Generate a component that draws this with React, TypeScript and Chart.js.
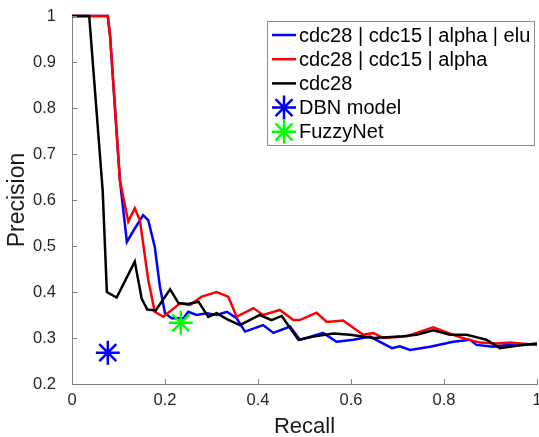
import React, { useEffect, useRef } from 'react';
import { Chart, registerables } from 'chart.js';

Chart.register(...registerables);

// ---- data ----
const blueRecall = [0, 0.077, 0.082, 0.103, 0.118, 0.135, 0.153, 0.164, 0.178, 0.189, 0.2, 0.214, 0.24, 0.25, 0.268, 0.29, 0.311, 0.333, 0.354, 0.372, 0.411, 0.433, 0.469, 0.49, 0.54, 0.569, 0.605, 0.641, 0.688, 0.705, 0.727, 0.77, 0.82, 0.856, 0.87, 0.906, 0.935, 1];
const bluePrecision = [1, 1, 0.955, 0.643, 0.509, 0.538, 0.567, 0.556, 0.498, 0.412, 0.354, 0.343, 0.343, 0.357, 0.35, 0.354, 0.35, 0.357, 0.343, 0.314, 0.328, 0.311, 0.325, 0.296, 0.311, 0.292, 0.296, 0.303, 0.278, 0.282, 0.274, 0.281, 0.292, 0.296, 0.285, 0.281, 0.285, 0.287];

const redRecall = [0, 0.077, 0.082, 0.103, 0.121, 0.135, 0.146, 0.164, 0.178, 0.196, 0.232, 0.254, 0.279, 0.311, 0.336, 0.354, 0.39, 0.411, 0.447, 0.476, 0.49, 0.526, 0.548, 0.583, 0.626, 0.648, 0.67, 0.72, 0.777, 0.806, 0.834, 0.877, 0.913, 0.942, 1];
const redPrecision = [1, 1, 0.955, 0.643, 0.553, 0.582, 0.556, 0.426, 0.357, 0.346, 0.375, 0.372, 0.39, 0.4, 0.39, 0.346, 0.365, 0.35, 0.361, 0.339, 0.339, 0.355, 0.335, 0.338, 0.307, 0.311, 0.3, 0.304, 0.323, 0.312, 0.302, 0.29, 0.288, 0.29, 0.285];

const blackRecall = [0, 0.037, 0.066, 0.075, 0.096, 0.135, 0.15, 0.162, 0.18, 0.211, 0.229, 0.25, 0.272, 0.293, 0.311, 0.333, 0.361, 0.404, 0.429, 0.451, 0.487, 0.519, 0.562, 0.598, 0.648, 0.705, 0.741, 0.777, 0.813, 0.849, 0.892, 0.92, 0.956, 1];
const blackPrecision = [1, 1, 0.62, 0.4, 0.388, 0.466, 0.385, 0.362, 0.36, 0.406, 0.376, 0.374, 0.379, 0.346, 0.354, 0.341, 0.328, 0.35, 0.339, 0.348, 0.296, 0.303, 0.31, 0.307, 0.3, 0.303, 0.307, 0.317, 0.307, 0.307, 0.296, 0.278, 0.283, 0.288];

const dbnRecall = [0.077];
const dbnPrecision = [0.268];
const fuzzyRecall = [0.234];
const fuzzyPrecision = [0.333];

const seriesLabels = ['cdc28 | cdc15 | alpha | elu', 'cdc28 | cdc15 | alpha', 'cdc28', 'DBN model', 'FuzzyNet'];
const seriesColors = ['#0000ff', '#ff0000', '#000000', '#0000ff', '#00ff00'];

const xTickValues = [0, 0.2, 0.4, 0.6, 0.8, 1];
const xTickLabels = ['0', '0.2', '0.4', '0.6', '0.8', '1'];
const yTickValues = [0.2, 0.3, 0.4, 0.5, 0.6, 0.7, 0.8, 0.9, 1];
const yTickLabels = ['0.2', '0.3', '0.4', '0.5', '0.6', '0.7', '0.8', '0.9', '1'];

const FONT = "'Liberation Sans', Arial, Helvetica, sans-serif";
const AXIS_GRAY = '#808080';
const TICK_COLOR = '#262626';
const TICK_FONT_SIZE = 16.5;

function pts(xs: number[], ys: number[]) {
  return xs.map((x, i) => ({ x, y: ys[i] }));
}

function drawStar(ctx: CanvasRenderingContext2D, cx: number, cy: number, r: number) {
  ctx.beginPath();
  for (let k = 0; k < 4; k++) {
    const a = (k * Math.PI) / 4;
    const dx = Math.cos(a) * r;
    const dy = Math.sin(a) * r;
    ctx.moveTo(cx - dx, cy - dy);
    ctx.lineTo(cx + dx, cy + dy);
  }
  ctx.stroke();
}

// inward tick marks (MATLAB style) + x tick labels
const axisDecor = {
  id: 'axisDecor',
  afterDatasetsDraw(chart: any) {
    const { ctx, chartArea, scales } = chart;
    ctx.save();
    ctx.strokeStyle = AXIS_GRAY;
    ctx.lineWidth = 1;
    ctx.beginPath();
    yTickValues.forEach((v) => {
      const y = Math.round(scales.y.getPixelForValue(v)) + 0.5;
      ctx.moveTo(chartArea.left, y);
      ctx.lineTo(chartArea.left + 5, y);
    });
    xTickValues.forEach((v) => {
      const x = Math.round(scales.x.getPixelForValue(v)) + 0.5;
      ctx.moveTo(x, chartArea.bottom);
      ctx.lineTo(x, chartArea.bottom - 5);
    });
    ctx.stroke();
    ctx.fillStyle = TICK_COLOR;
    ctx.font = `${TICK_FONT_SIZE}px ${FONT}`;
    ctx.textAlign = 'center';
    ctx.textBaseline = 'alphabetic';
    xTickValues.forEach((v, i) => {
      ctx.fillText(xTickLabels[i], scales.x.getPixelForValue(v), chartArea.bottom + 21);
    });
    ctx.restore();
  },
};

const boxLegend = {
  id: 'boxLegend',
  afterDraw(chart: any) {
    const { ctx, chartArea } = chart;
    const left = chartArea.left + 195;
    const top = chartArea.top + 5;
    const right = chartArea.right - 3;
    const rowH = 24.2;
    const bottom = top + 124;
    ctx.save();
    ctx.fillStyle = '#ffffff';
    ctx.fillRect(left, top, right - left, bottom - top);
    ctx.strokeStyle = '#8c8c8c';
    ctx.lineWidth = 1;
    ctx.strokeRect(Math.round(left) + 0.5, Math.round(top) + 0.5, Math.round(right - left), Math.round(bottom - top));
    ctx.font = `20px ${FONT}`;
    ctx.textBaseline = 'middle';
    ctx.textAlign = 'left';
    seriesLabels.forEach((label, i) => {
      const cy = top + 14 + i * rowH;
      ctx.strokeStyle = seriesColors[i];
      ctx.lineWidth = 2.5;
      if (i < 3) {
        ctx.beginPath();
        ctx.moveTo(left + 5, cy);
        ctx.lineTo(left + 29, cy);
        ctx.stroke();
      } else {
        drawStar(ctx, left + 17, cy, 12);
      }
      ctx.fillStyle = '#000000';
      ctx.fillText(label, left + 32, cy + 1);
    });
    ctx.restore();
  },
};

export default function App() {
  const ref = useRef<HTMLCanvasElement | null>(null);

  useEffect(() => {
    document.body.style.margin = '0';
    const canvas = ref.current;
    if (!canvas) return;
    Chart.defaults.font.family = FONT;

    const lineDs = (i: number, xs: number[], ys: number[], order: number) => ({
      label: seriesLabels[i],
      data: pts(xs, ys),
      showLine: true,
      borderColor: seriesColors[i],
      backgroundColor: seriesColors[i],
      borderWidth: 2.5,
      pointRadius: 0,
      pointHoverRadius: 0,
      tension: 0,
      fill: false,
      order,
      clip: 6,
    });
    const starDs = (i: number, xs: number[], ys: number[]) => ({
      label: seriesLabels[i],
      data: pts(xs, ys),
      showLine: false,
      pointStyle: 'star',
      pointRadius: 12,
      pointHoverRadius: 12,
      pointBorderColor: seriesColors[i],
      pointBackgroundColor: seriesColors[i],
      pointBorderWidth: 2.5,
      borderColor: seriesColors[i],
      order: 0,
      clip: 20,
    });

    const chart = new Chart(canvas, {
      type: 'scatter',
      data: {
        datasets: [
          lineDs(0, blueRecall, bluePrecision, 3),
          lineDs(1, redRecall, redPrecision, 2),
          lineDs(2, blackRecall, blackPrecision, 1),
          starDs(3, dbnRecall, dbnPrecision),
          starDs(4, fuzzyRecall, fuzzyPrecision),
        ] as any,
      },
      options: {
        animation: false,
        responsive: false,
        events: [],
        layout: { autoPadding: false, padding: { top: 16, right: 2, left: 0, bottom: 0 } },
        plugins: {
          legend: { display: false },
          tooltip: { enabled: false },
          title: { display: false },
        },
        scales: {
          x: {
            type: 'linear',
            min: 0,
            max: 1,
            afterBuildTicks: (s: any) => {
              s.ticks = xTickValues.map((v) => ({ value: v }));
            },
            afterFit: (s: any) => {
              s.height = 53;
              s.paddingLeft = 0;
              s.paddingRight = 0;
            },
            ticks: { display: false },
            grid: { display: false },
            border: { display: true, color: AXIS_GRAY, width: 1 },
            title: {
              display: true,
              text: 'Recall',
              color: '#1a1a1a',
              font: { size: 22, family: FONT, lineHeight: 0.9 },
              padding: { top: 0, bottom: 0 },
            },
          },
          y: {
            type: 'linear',
            min: 0.2,
            max: 1,
            afterBuildTicks: (s: any) => {
              s.ticks = yTickValues.map((v) => ({ value: v }));
            },
            afterFit: (s: any) => {
              s.width = 72;
              s.paddingTop = 0;
              s.paddingBottom = 0;
            },
            ticks: {
              autoSkip: false,
              padding: 8,
              color: TICK_COLOR,
              font: { size: TICK_FONT_SIZE, family: FONT },
              callback: (_v: any, i: number) => yTickLabels[i],
            },
            grid: { display: false },
            border: { display: true, color: AXIS_GRAY, width: 1 },
            title: {
              display: true,
              text: 'Precision',
              color: '#1a1a1a',
              font: { size: 23, family: FONT, lineHeight: 1 },
              padding: { top: 6, bottom: 0 },
            },
          },
        },
      },
      plugins: [axisDecor, boxLegend],
    } as any);

    return () => {
      chart.destroy();
    };
  }, []);

  return (
    <div style={{ position: 'fixed', left: 0, top: 0, width: 539, height: 437, background: '#ffffff' }}>
      <canvas ref={ref} width={539} height={437} style={{ width: 539, height: 437, display: 'block' }} />
    </div>
  );
}
